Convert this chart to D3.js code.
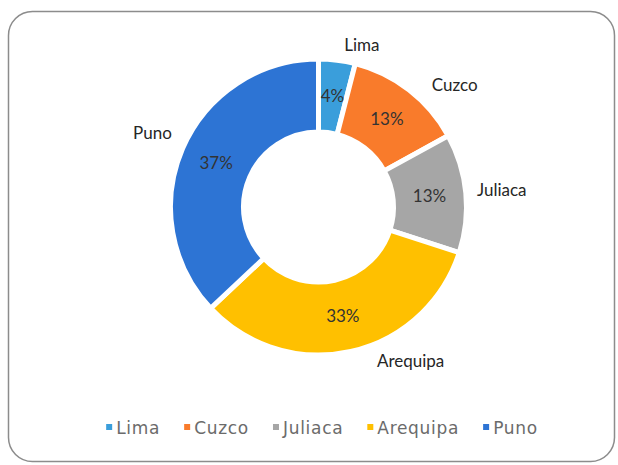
<!DOCTYPE html>
<html>
<head>
<meta charset="utf-8">
<script src="https://cdnjs.cloudflare.com/ajax/libs/d3/7.8.5/d3.min.js"></script>
<style>
  body { margin: 0; background: #fff; }
  svg { display: block; }
</style>
</head>
<body>
<div id="chart"></div>
<script>

// data
var cities = ["Lima", "Cuzco", "Juliaca", "Arequipa", "Puno"];
var shares = [4, 13, 13, 33, 37];
var colors = ["#3a9edb", "#f97b2b", "#a6a6a6", "#ffc000", "#2d74d4"];

var width = 618,
    height = 465;

var cx = 318.5,
    cy = 207;

var outerR = 148,
    innerR = 75;

var svg = d3.select("#chart")
    .append("svg")
    .attr("width", width)
    .attr("height", height);

// frame
svg.append("rect")
    .attr("x", 8.5)
    .attr("y", 11.5)
    .attr("width", 606)
    .attr("height", 450)
    .attr("rx", 24)
    .attr("fill", "#fff")
    .attr("stroke", "#8c8c8c")
    .attr("stroke-width", 1.5);

var rows = cities.map(function(c, i){ return { name: c, value: shares[i], color: colors[i] }; });

var pie = d3.pie()
    .sort(null)
    .value(function(d){ return d.value; });

var arc = d3.arc()
    .innerRadius(innerR)
    .outerRadius(outerR);

var outerLabelArc = d3.arc()
    .innerRadius(170)
    .outerRadius(170);

var g = svg.append("g")
    .attr("transform", "translate(" + cx + "," + cy + ")");

var slices = pie(rows);

g.selectAll(".slice")
    .data(slices).enter()
    .append("path")
    .attr("class", "slice")
    .attr("d", arc)
    .attr("fill", function(d){ return d.data.color; })
    .attr("stroke", "#fff")
    .attr("stroke-width", 5)
    .attr("stroke-linejoin", "miter");

// percent labels
g.selectAll(".pct")
    .data(slices).enter()
    .append("text")
    .attr("class", "pct")
    .attr("transform", function(d){ return "translate(" + arc.centroid(d) + ")"; })
    .attr("dy", "0.35em")
    .attr("text-anchor", "middle")
    .style("font-family", "Lato, sans-serif")
    .style("font-size", "17px")
    .style("fill", "#333")
    .text(function(d){ return d.data.value + "%"; });

// category labels outside (nudged like the hand-placed boxes)
var nudge = {
    Lima:     [22, 7],
    Cuzco:    [32, 12],
    Juliaca:  [14, -1],
    Arequipa: [55, -12],
    Puno:     [-10, -6]
};

g.selectAll(".cat")
    .data(slices).enter()
    .append("text")
    .attr("class", "cat")
    .attr("transform", function(d){
        var p = outerLabelArc.centroid(d);
        var n = nudge[d.data.name];
        return "translate(" + (p[0] + n[0]) + "," + (p[1] + n[1]) + ")";
    })
    .attr("dy", "0.35em")
    .attr("text-anchor", "middle")
    .style("font-family", "Lato, sans-serif")
    .style("font-size", "17px")
    .style("fill", "#262626")
    .text(function(d){ return d.data.name; });

// legend
var legend = svg.append("g")
    .attr("transform", "translate(0,434)");

var items = legend.selectAll(".item")
    .data(rows).enter()
    .append("g")
    .attr("class", "item");

items.append("rect")
    .attr("width", 6)
    .attr("height", 6)
    .attr("y", -10)
    .attr("fill", function(d){ return d.color; });

items.append("text")
    .attr("x", 10)
    .style("font-family", "'DejaVu Sans', sans-serif")
    .style("font-size", "17px")
    .style("letter-spacing", "0.7px")
    .style("fill", "#6b6b6b")
    .text(function(d){ return d.name; });

var gap = 24, xpos = [], total = 0;
items.each(function(d, i){
    var w = 10 + d3.select(this).select("text").node().getComputedTextLength();
    xpos.push(total);
    total += w + (i < rows.length - 1 ? gap : 0);
});
var start = 322 - total / 2;
items.attr("transform", function(d, i){ return "translate(" + (start + xpos[i]) + ",0)"; });

</script>
</body>
</html>
